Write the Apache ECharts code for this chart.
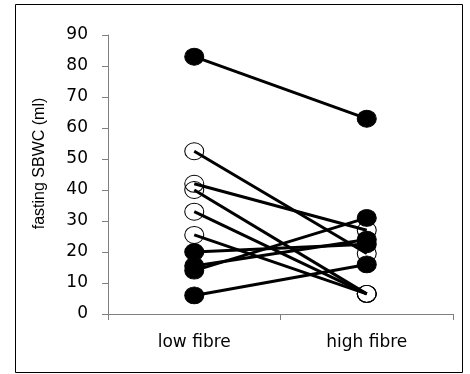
<!DOCTYPE html>
<html>
<head>
<meta charset="utf-8">
<script src="https://cdn.jsdelivr.net/npm/echarts@6/dist/echarts.min.js"></script>
<style>
  html, body { margin: 0; padding: 0; background: #fff; }
  #chart { width: 470px; height: 374px; }
</style>
</head>
<body>
<div id="chart"></div>
<script>
// one entry per subject: value on low fibre, value on high fibre, marker kind
const categories = ['low fibre', 'high fibre']
const lowFibre = [52.5, 42, 40, 33, 25.5, 83, 20, 15.5, 14, 6]
const highFibre = [19.5, 27, 6.5, 6.5, 6.5, 63, 22.5, 24, 31, 16]
const filledMarker = [false, false, false, false, false, true, true, true, true, true]
const yTicks = { min: 0, max: 90, interval: 10 }

const chart = echarts.init(document.getElementById('chart'), null, { renderer: 'canvas' })

const series = lowFibre.map((low, i) => ({
  type: 'line',
  data: [low, highFibre[i]],
  symbol: 'circle',
  symbolSize: [19, 17],
  showAllSymbol: true,
  animation: false,
  lineStyle: { color: '#000', width: 3 },
  itemStyle: filledMarker[i]
    ? { color: '#000', borderColor: '#000', borderWidth: 1 }
    : { color: 'rgba(0,0,0,0)', borderColor: '#000', borderWidth: 1 },
  emphasis: { disabled: true },
  z: filledMarker[i] ? 3 : 2
}))

chart.setOption({
  animation: false,
  backgroundColor: '#fff',
  grid: { left: 108, right: 17, top: 35, bottom: 60 },
  xAxis: {
    type: 'category',
    data: categories,
    boundaryGap: true,
    axisLine: { lineStyle: { color: '#7f7f7f', width: 1 } },
    axisTick: { show: true, length: 6, lineStyle: { color: '#7f7f7f' } },
    axisLabel: { color: '#000', fontFamily: 'DejaVu Sans', fontSize: 17, margin: 20 }
  },
  yAxis: {
    type: 'value',
    min: yTicks.min,
    max: yTicks.max,
    interval: yTicks.interval,
    name: 'fasting SBWC (ml)',
    nameLocation: 'middle',
    nameGap: 60,
    nameTextStyle: { color: '#000', fontFamily: 'Liberation Sans', fontSize: 16, padding: [0, 0, 0, 22] },
    splitLine: { show: false },
    axisLine: { show: true, lineStyle: { color: '#7f7f7f', width: 1 } },
    axisTick: { show: true, length: 6, lineStyle: { color: '#7f7f7f' } },
    axisLabel: { color: '#000', fontFamily: 'DejaVu Sans', fontSize: 17, margin: 20 }
  },
  graphic: [{
    type: 'rect',
    shape: { x: 15.5, y: 4.5, width: 447, height: 368 },
    style: { fill: 'none', stroke: '#000', lineWidth: 1 },
    silent: true
  }],
  series
})
</script>
</body>
</html>
